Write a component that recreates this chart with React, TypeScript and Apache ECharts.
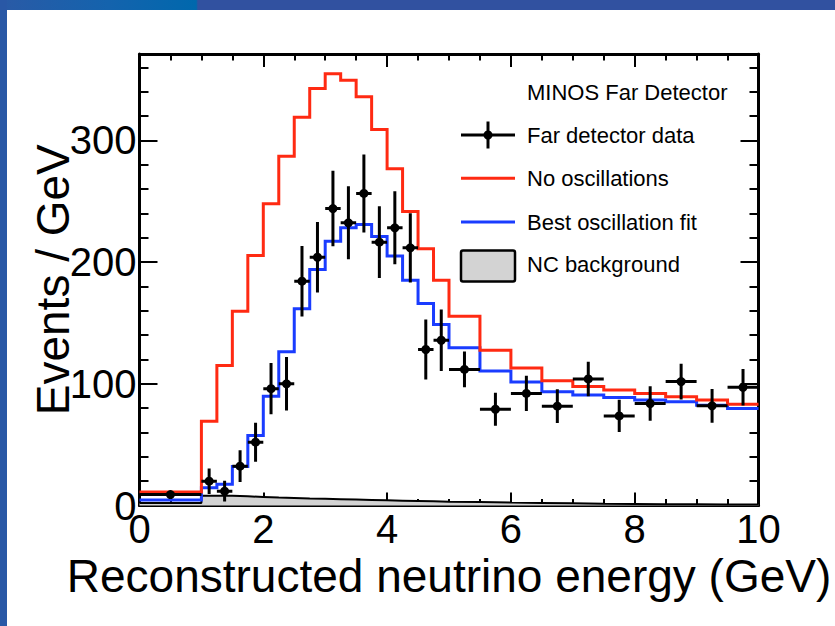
import React, { useEffect, useRef } from "react";
import * as echarts from "echarts";

// Bin edges (GeV)
const binEdges = [0, 1, 1.25, 1.5, 1.75, 2, 2.25, 2.5, 2.75, 3, 3.25, 3.5, 3.75, 4, 4.25, 4.5, 4.75, 5, 5.5, 6, 6.5, 7, 7.5, 8, 8.5, 9, 9.5, 10];

// Events / GeV per bin
const noOscillations = [11, 69.3, 115, 159.7, 205.4, 248, 287, 319, 342.6, 354.7, 349.5, 335.8, 309, 276.7, 241.5, 211, 185, 155.6, 127.5, 113, 102.6, 97.7, 94.9, 92.1, 89.4, 86.6, 83.3];
const bestFit = [4.5, 14.5, 17.5, 32, 57.5, 89.8, 126.3, 161.6, 193.9, 217.2, 228.2, 230.9, 221, 205, 185, 166, 148.7, 129.6, 110.5, 101.5, 93.5, 90.7, 88.8, 86.6, 85.2, 82.4, 79.7];
const ncBackground = [2, 8, 8, 7.5, 7, 6.5, 6.2, 5.8, 5.5, 5.2, 4.9, 4.6, 4.3, 4, 3.7, 3.4, 3.1, 2.8, 2.4, 2.1, 1.8, 1.5, 1.3, 1.1, 1.0, 0.9, 0.8];
const farData = [9, 20, 11.8, 32.3, 52, 96, 100, 184.3, 204, 244, 232.3, 256.4, 216.4, 228.2, 211.7, 128.2, 135.8, 111.8, 79.1, 92.1, 81.6, 104, 73.6, 83.8, 101.8, 81.9, 97.1];
const farErrors = [3, 10.5, 8.5, 13, 16, 21, 22, 29, 29, 31, 30, 32, 29.5, 30, 28.5, 24.6, 25.3, 14.7, 13.5, 14.5, 13.9, 14.2, 13.2, 14.2, 14.7, 13.9, 15];

const legendTitle = "MINOS Far Detector";
const legendLabels = ["Far detector data", "No oscillations", "Best oscillation fit", "NC background"];
const xTitle = "Reconstructed neutrino energy (GeV)";
const yTitle = "Events / GeV";

const RED = "#ff2a12";
const BLUE = "#1a3cff";
const GRAY = "#d3d3d3";
const FONT = '"Liberation Sans", Arial, Helvetica, sans-serif';

const stepData = (vals: number[]) => [
  ...vals.map((v, i) => [binEdges[i], v]),
  [binEdges[binEdges.length - 1], vals[vals.length - 1]],
];

const YMAX = 371;

export default function App() {
  const ref = useRef<HTMLDivElement>(null);
  useEffect(() => {
    if (!ref.current) return;
    const chart = echarts.init(ref.current, undefined, { renderer: "svg" });

    const pointData = farData.map((v, i) => [
      (binEdges[i] + binEdges[i + 1]) / 2,
      v,
      binEdges[i],
      binEdges[i + 1],
      farErrors[i],
    ]);

    const baseX = (pos: "bottom" | "top", labels: boolean) => ({
      type: "value",
      position: pos,
      min: 0,
      max: 10,
      interval: 2,
      axisLine: { show: true, onZero: false, lineStyle: { color: "#000", width: 3 } },
      axisTick: { show: true, inside: true, length: 13, lineStyle: { color: "#000", width: 2 } },
      minorTick: { show: true, splitNumber: 4, length: 6.5, lineStyle: { color: "#000", width: 2 } },
      splitLine: { show: false },
      minorSplitLine: { show: false },
      axisLabel: {
        show: labels,
        color: "#000",
        fontSize: 40,
        fontFamily: FONT,
        margin: 3,
      },
      ...(labels
        ? {
            name: xTitle,
            nameLocation: "middle",
            nameGap: 47,
            nameTextStyle: { color: "#000", fontSize: 46, fontFamily: FONT },
          }
        : {}),
    });

    const baseY = (pos: "left" | "right", major: boolean, labels: boolean) => ({
      type: "value",
      position: pos,
      min: 0,
      max: YMAX,
      interval: major ? 100 : 20,
      axisLine: { show: major, onZero: false, lineStyle: { color: "#000", width: 3 } },
      axisTick: { show: true, inside: true, length: major ? 18 : 9, lineStyle: { color: "#000", width: 2 } },
      splitLine: { show: false },
      axisLabel: {
        show: labels,
        color: "#000",
        fontSize: 40,
        fontFamily: FONT,
        margin: 3,
        formatter: (v: number) => (v % 100 === 0 ? String(v) : ""),
      },
      ...(labels
        ? {
            name: yTitle,
            nameLocation: "middle",
            nameGap: 64,
            nameRotate: 90,
            nameMoveOverlap: false,
            nameTextStyle: { color: "#000", fontSize: 46, fontFamily: FONT },
          }
        : {}),
    });

    const lx1 = 461, lx2 = 515, lxm = 488, tx = 527;
    const rows = [135, 178.3, 222, 264];

    const textEl = (text: string, x: number, y: number, size: number) => ({
      type: "text",
      x,
      y,
      z: 100,
      style: {
        text,
        fill: "#000",
        font: `${size}px ${FONT}`,
        textAlign: "left",
        textVerticalAlign: "middle",
        verticalAlign: "middle",
      },
    });

    chart.setOption({
      animation: false,
      backgroundColor: "#ffffff",
      grid: { left: 139.5, right: 76.5, top: 54, bottom: 120.5, containLabel: false },
      xAxis: [baseX("bottom", true), baseX("top", false)],
      yAxis: [baseY("left", true, true), baseY("left", false, false), baseY("right", true, false), baseY("right", false, false)],
      graphic: [
        {
          type: "rect",
          shape: { x: 0, y: 0, width: 835, height: 10 },
          z: 200,
          style: {
            fill: new echarts.graphic.LinearGradient(0, 0, 1, 0, [
              { offset: 0, color: "#2a5aa6" },
              { offset: 0.13, color: "#1463ad" },
              { offset: 0.235, color: "#0068ad" },
              { offset: 0.237, color: "#3151a0" },
              { offset: 1, color: "#3151a0" },
            ]),
          },
        },
        {
          type: "rect",
          shape: { x: 0, y: 0, width: 7, height: 626 },
          z: 200,
          style: { fill: "#2958a6" },
        },
        textEl(legendTitle, tx, 92.3, 22),
        { type: "line", z: 100, shape: { x1: lx1, y1: rows[0], x2: lx2, y2: rows[0] }, style: { stroke: "#000", lineWidth: 3 } },
        { type: "line", z: 100, shape: { x1: lxm, y1: rows[0] - 13.5, x2: lxm, y2: rows[0] + 13.5 }, style: { stroke: "#000", lineWidth: 3 } },
        { type: "circle", z: 100, shape: { cx: lxm, cy: rows[0], r: 4.5 }, style: { fill: "#000" } },
        textEl(legendLabels[0], tx, rows[0], 22),
        { type: "line", z: 100, shape: { x1: lx1, y1: rows[1], x2: lx2, y2: rows[1] }, style: { stroke: RED, lineWidth: 3 } },
        textEl(legendLabels[1], tx, rows[1], 22),
        { type: "line", z: 100, shape: { x1: lx1, y1: rows[2], x2: lx2, y2: rows[2] }, style: { stroke: BLUE, lineWidth: 3 } },
        textEl(legendLabels[2], tx, rows[2], 22),
        { type: "rect", z: 100, shape: { x: lx1, y: 250.5, width: lx2 - lx1, height: 31, r: 2 }, style: { fill: GRAY, stroke: "#000", lineWidth: 2.5 } },
        textEl(legendLabels[3], tx, rows[3], 22),
      ],
      series: [
        {
          name: legendLabels[3],
          type: "line",
          step: "end",
          data: stepData(ncBackground),
          symbol: "none",
          lineStyle: { color: "#000", width: 2 },
          areaStyle: { color: GRAY, opacity: 1 },
          z: 2,
        },
        {
          name: legendLabels[2],
          type: "line",
          step: "end",
          data: stepData(bestFit),
          symbol: "none",
          lineStyle: { color: BLUE, width: 3, join: "miter" },
          z: 3,
        },
        {
          name: legendLabels[1],
          type: "line",
          step: "end",
          data: stepData(noOscillations),
          symbol: "none",
          lineStyle: { color: RED, width: 3, join: "miter" },
          z: 4,
        },
        {
          name: legendLabels[0],
          type: "custom",
          data: pointData,
          z: 5,
          clip: true,
          renderItem: (params: any, api: any) => {
            const x = api.value(0), y = api.value(1), lo = api.value(2), hi = api.value(3), e = api.value(4);
            const p = api.coord([x, y]);
            const pl = api.coord([lo, y]);
            const ph = api.coord([hi, y]);
            const pt = api.coord([x, y + e]);
            const pb = api.coord([x, Math.max(0, y - e)]);
            return {
              type: "group",
              children: [
                { type: "line", shape: { x1: pl[0], y1: pl[1], x2: ph[0], y2: ph[1] }, style: { stroke: "#000", lineWidth: 3 } },
                { type: "line", shape: { x1: pt[0], y1: pt[1], x2: pb[0], y2: pb[1] }, style: { stroke: "#000", lineWidth: 3 } },
                { type: "circle", shape: { cx: p[0], cy: p[1], r: 4.5 }, style: { fill: "#000" } },
              ],
            };
          },
        },
      ],
    });
    return () => chart.dispose();
  }, []);
  return (
    <div
      ref={ref}
      style={{ position: "fixed", left: 0, top: 0, width: 835, height: 626, background: "#fff" }}
    />
  );
}
